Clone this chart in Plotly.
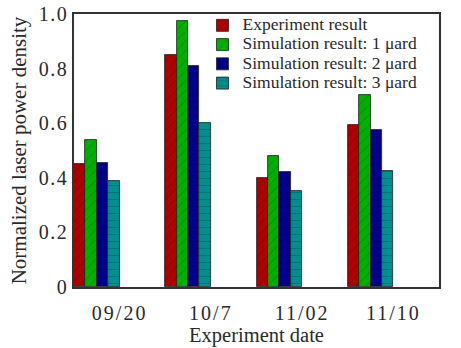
import plotly.graph_objects as go

dates = ["09/20", "10/7", "11/02", "11/10"]
series_names = ["Experiment result", "Simulation result: 1 \u03bcard",
                "Simulation result: 2 \u03bcard", "Simulation result: 3 \u03bcard"]
experiment = [0.45, 0.85, 0.40, 0.595]
sim_1 = [0.54, 0.975, 0.48, 0.705]
sim_2 = [0.455, 0.81, 0.42, 0.575]
sim_3 = [0.39, 0.60, 0.35, 0.425]
y_ticks = [0, 0.2, 0.4, 0.6, 0.8, 1.0]
y_tick_labels = ["0", "0.2", "0.4", "0.6", "0.8", "1.0"]

values = [experiment, sim_1, sim_2, sim_3]
colors = ["#b20000", "#00b000", "#00008c", "#008e8e"]
pattern_fg = ["#6a0000", "#006a00", "#000040", "#005050"]
shapes = ["/", "/", ".", "-"]

positions = list(range(len(dates)))
bar_w = 0.125

fig = go.Figure()
for k, (name, vals) in enumerate(zip(series_names, values)):
    fig.add_trace(go.Bar(
        x=positions, y=vals,
        name="<span style='font-size:17.5px'>%s</span>" % name,
        width=bar_w, offset=-0.5 + k * bar_w,
        marker=dict(color=colors[k], line=dict(color="#202020", width=0.8),
                    pattern=dict(shape=shapes[k], fgcolor=pattern_fg[k],
                                 fgopacity=0.45, size=7, solidity=0.15)),
    ))

font_family = "Liberation Serif, Times New Roman, serif"
fig.update_layout(
    width=461, height=348,
    margin=dict(l=74, r=22, t=14, b=61, autoexpand=False),
    paper_bgcolor="white", plot_bgcolor="white",
    font=dict(family=font_family, size=20, color="#2a2a2a"),
    showlegend=True,
    legend=dict(x=0.352, y=1.012, xanchor="left", yanchor="top",
                bgcolor="rgba(0,0,0,0)", font=dict(size=12.5),
                itemwidth=30, tracegroupgap=0),
    bargap=0,
)
fig.update_xaxes(
    range=[-0.5, 3.5], tickmode="array", tickvals=positions,
    ticktext=["<span style='letter-spacing:2px'>%s</span>" % d for d in dates],
    showline=True, linecolor="#333", linewidth=1.5, mirror=True,
    showgrid=False, zeroline=False, ticks="", ticklabelstandoff=7,
    automargin=True,
    title=dict(text="Experiment date", font=dict(size=20.5), standoff=2),
)
fig.update_yaxes(
    range=[0, 1.0], tickmode="array", tickvals=y_ticks,
    ticktext=["<span style='letter-spacing:1.5px'>%s</span>" % t for t in y_tick_labels],
    showline=True, linecolor="#333", linewidth=1.5, mirror=True,
    showgrid=False, zeroline=False, ticks="", ticklabelstandoff=0,
    automargin=True, ticklabeloverflow="allow",
    title=dict(text="Normalized laser power density", font=dict(size=21), standoff=6),
)
fig.write_html("out.html", config={"displayModeBar": False},
               post_script="document.body.style.margin='0';")
